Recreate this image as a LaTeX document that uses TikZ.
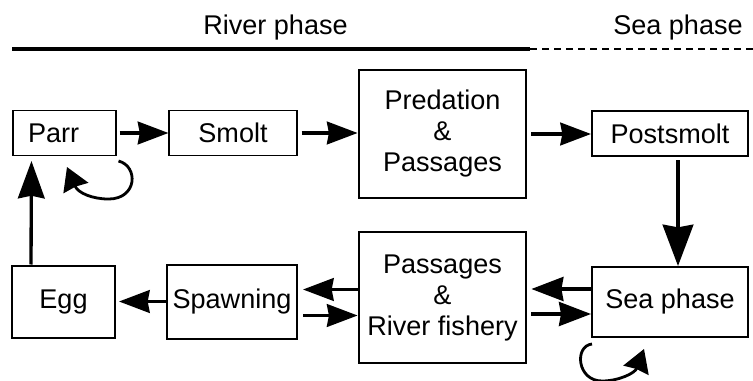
\documentclass[tikz,border=0pt]{standalone}
\usepackage{fontspec}
\setmainfont{Liberation Sans}
\usetikzlibrary{arrows.meta,calc}
\begin{document}
\begin{tikzpicture}[x=0.75pt,y=-0.75pt,
  every node/.style={font=\fontsize{20.3}{23.25}\selectfont},
  boxbase/.style={draw, rectangle, inner sep=0pt, align=center},
  thinbox/.style={boxbase, line width=0.8pt},
  midbox/.style={boxbase, line width=1.5pt},
  heavybox/.style={boxbase, line width=2.1pt},
  flow/.style={line width=2.5pt, -{Stealth[length=23pt,width=17pt,inset=1.5pt]}},
  wideflow/.style={line width=2.5pt, -{Stealth[length=24pt,width=18pt,inset=1.5pt]}},
  tallflow/.style={line width=2.5pt, -{Stealth[length=28pt,width=20pt,inset=2pt]}},
  bigflow/.style={line width=2.5pt, -{Stealth[length=31pt,width=23pt,inset=2pt]}},
  loopflow/.style={line width=2.1pt, -{Stealth[length=17pt,width=20pt,inset=1pt]}},
  headline/.style={line width=2.4pt},
  headdash/.style={line width=1.2pt, dash pattern=on 5.25pt off 3.75pt},
  headtext/.style={anchor=base}]
\useasboundingbox (0,0) rectangle (753,381);

% phase header
\node[headtext] (river) at (275.5,35) {River phase};
\node[headtext] (seahead) at (678,35) {Sea phase};
\coordinate (hl) at (12,49);
\coordinate (hm) at (530,49);
\coordinate (hr) at (753,49);
\draw[headline] (hl) -- (hm);
\draw[headdash] (hm) -- (hr);

% river stages
\node[thinbox, minimum height=33.75pt, text width=54.75pt, inner xsep=11.25pt, align=left] (parr) at (64.5,133) {Parr};
\node[thinbox, minimum width=96pt, minimum height=33.75pt] (smolt) at (233,133) {Smolt};
\node[heavybox, minimum width=125.25pt, minimum height=96pt] (pred) at (442.5,134) {Predation\\\&\\Passages};
\node[midbox, minimum width=117pt, minimum height=33.75pt] (post) at (670,134) {Postsmolt};
\node[midbox, minimum width=117pt, minimum height=52.5pt] (sea) at (670,302) {Sea phase};
\node[heavybox, minimum width=125.25pt, minimum height=98.25pt] (pass) at (442.5,297.5) {Passages\\\&\\River fishery};
\node[midbox, minimum width=97.5pt, minimum height=55.5pt] (spawn) at (232,301.5) {Spawning};
\node[midbox, minimum width=77.25pt, minimum height=54pt] (egg) at (63.5,301.5) {Egg};

% forward flow
\draw[flow] ([xshift=2.25pt]parr.east) -- (smolt.west);
\draw[flow] ([xshift=3pt]smolt.east) -- (pred.west |- smolt.east);
\draw[flow] ([xshift=3pt]pred.east |- post.west) -- (post.west);
\draw[bigflow] ($(post.south)+(8,3)$) -- ($(sea.north)+(8,0)$);

% returning adults
\draw[wideflow] ($(sea.west)+(0,-13)$) -- ($(pass.east |- sea.west)+(4,-13)$);
\draw[wideflow] ($(pass.east |- sea.west)+(4,12)$) -- ($(sea.west)+(0,12)$);
\draw[flow] ($(pass.west |- spawn.east)+(0,-12)$) -- ($(spawn.east)+(5,-12)$);
\draw[flow] ($(spawn.east)+(5,14)$) -- ($(pass.west |- spawn.east)+(0,14)$);
\draw[flow] (spawn.west) -- ($(egg.east)+(3,0)$);
\draw[tallflow] ($(egg.north west)+(20,0)$) -- ($(parr.south west)+(19,5)$);

% staying loops
\draw[loopflow] ($(parr.south east)+(2,5)$) .. controls +(20,5) and +(29,0) ..
  ($(parr.south east)+(-8,43)$) .. controls +(-16,0) and +(11,26) ..
  ($(parr.south)+(2.5,11)$);
\draw[loopflow] ($(sea.south west)+(1,6)$) .. controls +(-18,2) and +(-25,0) ..
  ($(sea.south west)+(11,43)$) .. controls +(17,0) and +(-9,24) ..
  ($(sea.south west)+(53,11)$);
\end{tikzpicture}
\end{document}
